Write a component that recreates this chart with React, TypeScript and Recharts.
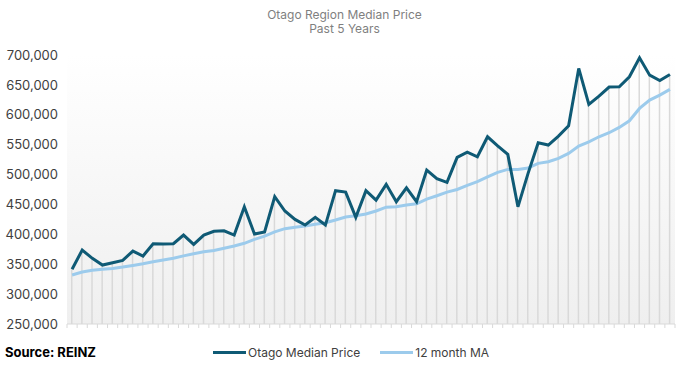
import React from "react";
import {
  ComposedChart,
  Line,
  Bar,
  XAxis,
  YAxis,
  CartesianGrid,
} from "recharts";

const DARK = "#0f5a75";
const LIGHT = "#9ccbec";
const DROP = "#d9d9d9";
const FONT = "Inter, 'Noto Sans', sans-serif";

// monthly median price, last 60 months
const median = [
  341500, 373700, 359800, 348600, 352500, 356500, 372000, 363700, 384300, 383800,
  384300, 398800, 383200, 398800, 405000, 406000, 398800, 446000, 400500, 404000,
  463000, 439000, 425000, 415500, 428400, 415500, 473000, 470700, 428400, 473000,
  457300, 483600, 454500, 477900, 454500, 507500, 493000, 487000, 528700, 537600,
  529800, 563200, 548000, 533700, 446000, 502000, 553000, 549300, 564300, 581600,
  677500, 617300, 631200, 646300, 646800, 663500, 695300, 666300, 657400, 667500,
];

// 12 month moving average
const movingAvg = [
  331900, 337000, 340000, 341500, 343000, 345300, 348000, 350800, 354000, 357000,
  360000, 364000, 367500, 371000, 373000, 376600, 380400, 385000, 391600, 397000,
  404000, 409500, 412000, 413800, 416700, 419400, 423900, 428900, 431000, 434000,
  439000, 445500, 446000, 449000, 451000, 459000, 464500, 470700, 475000, 482000,
  488000, 496000, 503600, 508600, 508600, 511000, 518700, 521400, 527000, 535400,
  547600, 554800, 563200, 570000, 578900, 590000, 610600, 624500, 632900, 642400,
];

const yTicks = [250000, 300000, 350000, 400000, 450000, 500000, 550000, 600000, 650000, 700000];

const data = median.map((v, i) => ({ idx: i, median: v, ma: movingAvg[i] }));
// tick marks sit on the boundaries between months
const xTicks = [...median.map((_, i) => i - 0.5), median.length - 0.5];

export default function App() {
  return (
    <div
      style={{
        position: "absolute",
        top: 0,
        left: 0,
        width: 689,
        height: 370,
        background: "#fff",
        fontFamily: FONT,
      }}
    >
      <div
        style={{
          position: "absolute",
          top: 8,
          left: 0,
          width: 689,
          textAlign: "center",
          fontSize: 12,
          lineHeight: "14px",
          color: "#7f7f7f",
        }}
      >
        Otago Region Median Price
        <br />
        Past 5 Years
      </div>

      <ComposedChart
        width={689}
        height={370}
        data={data}
        margin={{ top: 55, right: 14, left: 0, bottom: 36 }}
      >
        <defs>
          <linearGradient id="plotBg" x1="0" y1="0" x2="0" y2="1">
            <stop offset="0%" stopColor="#ffffff" />
            <stop offset="100%" stopColor="#efefef" />
          </linearGradient>
        </defs>
        <CartesianGrid
          horizontal={false}
          vertical={false}
          fill="url(#plotBg)"
          fillOpacity={1}
        />
        <XAxis
          type="number"
          dataKey="idx"
          domain={[-0.5, median.length - 0.5]}
          ticks={xTicks}
          interval={0}
          height={10}
          tickFormatter={() => ""}
          tickSize={4}
          axisLine={{ stroke: "#d9d9d9" }}
          tickLine={{ stroke: "#d9d9d9" }}
        />
        <YAxis
          domain={[250000, 700000]}
          ticks={yTicks}
          interval={0}
          width={67}
          axisLine={false}
          tickLine={false}
          tickMargin={3}
          tickFormatter={(v: number) => v.toLocaleString("en-US")}
          tick={{ fill: "#404040", fontSize: 13, fontFamily: FONT }}
        />
        <Bar
          dataKey="median"
          barSize={1.5}
          fill={DROP}
          isAnimationActive={false}
        />
        <Line
          type="linear"
          dataKey="ma"
          stroke={LIGHT}
          strokeWidth={3}
          dot={false}
          activeDot={false}
          isAnimationActive={false}
        />
        <Line
          type="linear"
          dataKey="median"
          stroke={DARK}
          strokeWidth={3}
          dot={false}
          activeDot={false}
          isAnimationActive={false}
        />
      </ComposedChart>

      <div
        style={{
          position: "absolute",
          top: 344,
          left: 5,
          fontSize: 13,
          fontWeight: 700,
          color: "#000",
        }}
      >
        Source: REINZ
      </div>
      <div
        style={{
          position: "absolute",
          top: 345,
          left: 213,
          display: "flex",
          alignItems: "center",
          fontSize: 12,
          color: "#404040",
        }}
      >
        <span style={{ width: 33, height: 3, background: DARK, marginRight: 2 }} />
        <span style={{ marginRight: 20 }}>Otago Median Price</span>
        <span style={{ width: 33, height: 3, background: LIGHT, marginRight: 2 }} />
        <span>12 month MA</span>
      </div>
    </div>
  );
}
